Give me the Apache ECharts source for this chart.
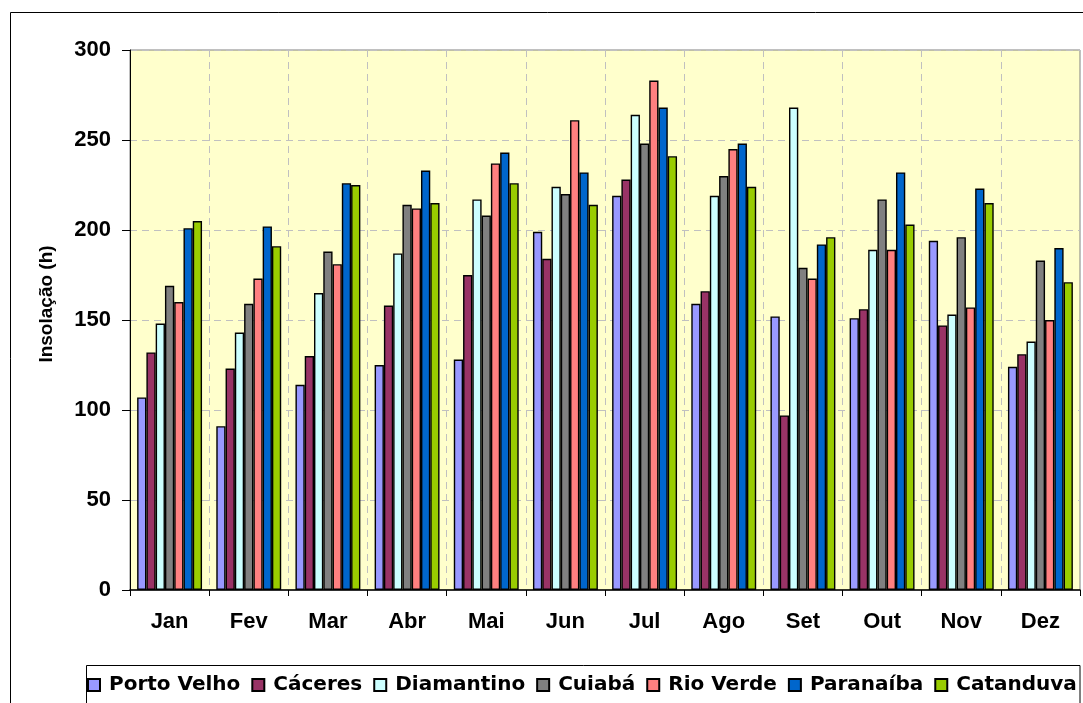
<!DOCTYPE html>
<html>
<head>
<meta charset="utf-8">
<script src="https://cdn.jsdelivr.net/npm/echarts@6/dist/echarts.min.js"></script>
<style>
html,body{margin:0;padding:0;background:#fff;}
#chart{width:1083px;height:703px;}
</style>
</head>
<body>
<div id="chart"></div>
<script>
const months = ['Jan','Fev','Mar','Abr','Mai','Jun','Jul','Ago','Set','Out','Nov','Dez'];
const yTicks = [0, 50, 100, 150, 200, 250, 300];
const portoVelho = [107, 91, 114, 125, 128, 199, 219, 159, 152, 151, 194, 124];
const caceres    = [132, 123, 130, 158, 175, 184, 228, 166, 97, 156, 147, 131];
const diamantino = [148, 143, 165, 187, 217, 224, 264, 219, 268, 189, 153, 138];
const cuiaba     = [169, 159, 188, 214, 208, 220, 248, 230, 179, 217, 196, 183];
const rioVerde   = [160, 173, 181, 212, 237, 261, 283, 245, 173, 189, 157, 150];
const paranaiba  = [201, 202, 226, 233, 243, 232, 268, 248, 192, 232, 223, 190];
const catanduva  = [205, 191, 225, 215, 226, 214, 241, 224, 196, 203, 215, 171];

const seriesDefs = [
  ['Porto Velho', portoVelho, '#9999FF'],
  ['Cáceres', caceres, '#993366'],
  ['Diamantino', diamantino, '#CCFFFF'],
  ['Cuiabá', cuiaba, '#808080'],
  ['Rio Verde', rioVerde, '#FF8080'],
  ['Paranaíba', paranaiba, '#0066CC'],
  ['Catanduva', catanduva, '#99CC00']
];

const chart = echarts.init(document.getElementById('chart'), null, {renderer: 'canvas'});
const labelFont = {fontFamily: 'Liberation Sans, Arial, sans-serif', fontWeight: 'bold', fontSize: 22, color: '#000'};

chart.setOption({
  animation: false,
  backgroundColor: '#fff',
  grid: {
    left: 130, right: 3, top: 50, bottom: 113,
    show: true, backgroundColor: '#FFFFCC', borderColor: '#808080', borderWidth: 1
  },
  legend: {
    left: 87, top: 675, padding: 0,
    itemWidth: 12, itemHeight: 12, itemGap: 11,
    icon: 'rect',
    textStyle: {fontFamily: 'DejaVu Sans, sans-serif', fontWeight: 'bold', fontSize: 20, color: '#000', padding: [0, 0, 0, 4]},
    data: seriesDefs.map(s => s[0])
  },
  xAxis: {
    type: 'category',
    data: months,
    boundaryGap: true,
    axisLine: {show: true, lineStyle: {color: '#000', width: 1.5}},
    axisTick: {show: true, length: 6, lineStyle: {color: '#000'}},
    axisLabel: Object.assign({margin: 21}, labelFont),
    splitLine: {show: true, lineStyle: {color: '#C0C0C0', type: [7, 5], width: 1}}
  },
  yAxis: {
    type: 'value',
    min: yTicks[0], max: yTicks[yTicks.length - 1], interval: 50,
    axisLine: {show: true, lineStyle: {color: '#000', width: 1}},
    axisTick: {show: true, length: 8, lineStyle: {color: '#000'}},
    axisLabel: Object.assign({margin: 19}, labelFont),
    splitLine: {show: true, lineStyle: {color: '#C0C0C0', type: [7, 5], width: 1}}
  },
  series: seriesDefs.map(s => ({
    name: s[0],
    type: 'bar',
    data: s[1],
    barGap: '0%',
    barCategoryGap: '18%',
    itemStyle: {color: s[2], borderColor: '#000', borderWidth: 1.4}
  })),
  graphic: [
    {type: 'rect', shape: {x: 10.5, y: 12.5, width: 1100, height: 720}, style: {fill: 'none', stroke: '#000', lineWidth: 1}, silent: true},
    {type: 'rect', shape: {x: 86.5, y: 665.5, width: 993.5, height: 60}, style: {fill: 'none', stroke: '#000', lineWidth: 1}, silent: true},
    {type: 'text', x: 47, y: 304, rotation: Math.PI / 2,
     style: {text: 'Insolação (h)', font: 'bold 19px "Liberation Sans", Arial, sans-serif', fill: '#000', textAlign: 'center', textVerticalAlign: 'middle'}}
  ]
});
</script>
</body>
</html>
